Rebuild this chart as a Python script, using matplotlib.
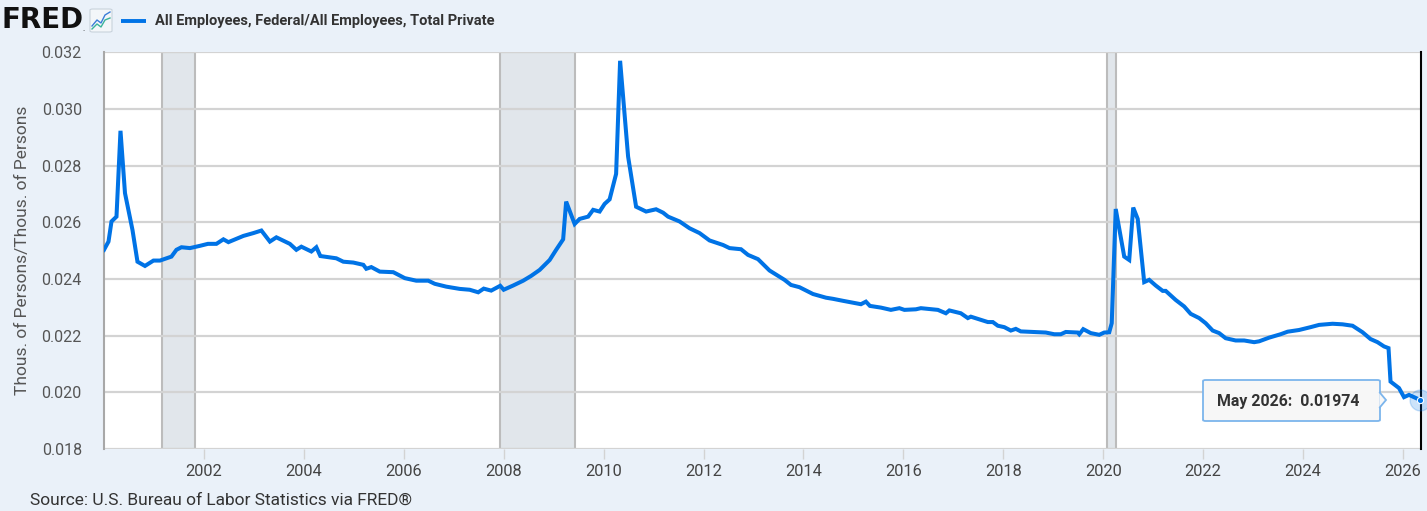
import matplotlib
matplotlib.use('Agg')
import matplotlib.pyplot as plt
from matplotlib.patches import FancyBboxPatch, Polygon

plt.rcParams['font.family'] = ['Roboto', 'DejaVu Sans']

# monthly ratio (decimal year, value)
years = [2000.00, 2000.09, 2000.15, 2000.25, 2000.33, 2000.42, 2000.57, 2000.67, 2000.82, 2000.99,
         2001.12, 2001.35, 2001.45, 2001.55, 2001.72, 2001.92, 2002.08, 2002.25, 2002.39, 2002.49,
         2002.79, 2002.99, 2003.15, 2003.32, 2003.45, 2003.72, 2003.85, 2003.95, 2004.15, 2004.25,
         2004.33, 2004.65, 2004.79, 2004.99, 2005.19, 2005.25, 2005.35, 2005.52, 2005.79, 2006.02,
         2006.25, 2006.49, 2006.62, 2006.85, 2007.12, 2007.32, 2007.49, 2007.60, 2007.75, 2007.93,
         2008.00, 2008.19, 2008.39, 2008.55, 2008.72, 2008.92, 2009.05, 2009.19, 2009.25, 2009.42,
         2009.52, 2009.69, 2009.79, 2009.92, 2010.02, 2010.12, 2010.25, 2010.33, 2010.49, 2010.65,
         2010.85, 2011.05, 2011.19, 2011.29, 2011.52, 2011.72, 2011.92, 2012.12, 2012.39, 2012.52,
         2012.75, 2012.89, 2013.09, 2013.32, 2013.62, 2013.75, 2013.92, 2014.19, 2014.45, 2014.59,
         2014.79, 2015.15, 2015.25, 2015.33, 2015.55, 2015.75, 2015.92, 2016.02, 2016.25, 2016.35,
         2016.69, 2016.85, 2016.92, 2017.15, 2017.29, 2017.35, 2017.55, 2017.69, 2017.79, 2017.89,
         2018.02, 2018.15, 2018.25, 2018.35, 2018.59, 2018.85, 2019.02, 2019.15, 2019.25, 2019.49,
         2019.52, 2019.60, 2019.75, 2019.92, 2020.02, 2020.12, 2020.17, 2020.25, 2020.42, 2020.52,
         2020.60, 2020.69, 2020.82, 2020.92, 2021.05, 2021.19, 2021.25, 2021.45, 2021.62, 2021.75,
         2021.92, 2022.05, 2022.19, 2022.32, 2022.45, 2022.65, 2022.82, 2023.02, 2023.12, 2023.32,
         2023.55, 2023.69, 2023.92, 2024.15, 2024.32, 2024.59, 2024.79, 2024.99, 2025.19, 2025.35,
         2025.49, 2025.62, 2025.71, 2025.75, 2025.92, 2026.02, 2026.12, 2026.33]
ratio = [0.02503, 0.02532, 0.02603, 0.02620, 0.02923, 0.02703, 0.02573, 0.02461, 0.02446, 0.02465,
         0.02465, 0.02479, 0.02503, 0.02512, 0.02509, 0.02517, 0.02524, 0.02524, 0.02540, 0.02530,
         0.02552, 0.02562, 0.02571, 0.02532, 0.02547, 0.02524, 0.02503, 0.02514, 0.02497, 0.02512,
         0.02481, 0.02473, 0.02461, 0.02458, 0.02450, 0.02436, 0.02442, 0.02426, 0.02424, 0.02403,
         0.02394, 0.02394, 0.02383, 0.02373, 0.02365, 0.02362, 0.02353, 0.02366, 0.02359, 0.02376,
         0.02362, 0.02377, 0.02394, 0.02411, 0.02432, 0.02467, 0.02503, 0.02540, 0.02673, 0.02594,
         0.02612, 0.02620, 0.02644, 0.02638, 0.02665, 0.02681, 0.02771, 0.03170, 0.02832, 0.02655,
         0.02638, 0.02646, 0.02634, 0.02620, 0.02603, 0.02579, 0.02562, 0.02536, 0.02520, 0.02509,
         0.02505, 0.02485, 0.02470, 0.02430, 0.02397, 0.02379, 0.02371, 0.02347, 0.02334, 0.02330,
         0.02323, 0.02311, 0.02320, 0.02305, 0.02299, 0.02291, 0.02297, 0.02291, 0.02293, 0.02297,
         0.02291, 0.02279, 0.02289, 0.02279, 0.02262, 0.02267, 0.02256, 0.02248, 0.02248, 0.02235,
         0.02230, 0.02218, 0.02224, 0.02215, 0.02213, 0.02211, 0.02205, 0.02205, 0.02213, 0.02211,
         0.02205, 0.02223, 0.02209, 0.02203, 0.02211, 0.02212, 0.02244, 0.02647, 0.02479, 0.02467,
         0.02652, 0.02612, 0.02389, 0.02397, 0.02377, 0.02358, 0.02358, 0.02326, 0.02303, 0.02277,
         0.02262, 0.02244, 0.02218, 0.02209, 0.02191, 0.02183, 0.02183, 0.02177, 0.02180, 0.02193,
         0.02205, 0.02214, 0.02220, 0.02230, 0.02238, 0.02242, 0.02240, 0.02235, 0.02212, 0.02188,
         0.02177, 0.02162, 0.02156, 0.02038, 0.02015, 0.01983, 0.01991, 0.01974]

recessions = [(2001.17, 2001.83), (2007.92, 2009.42), (2020.08, 2020.25)]
yticks = [0.018, 0.020, 0.022, 0.024, 0.026, 0.028, 0.030, 0.032]
xticks = list(range(2002, 2027, 2))

bg = '#eaf1f9'
blue = '#0073e6'

fig = plt.figure(figsize=(14.27, 5.11), dpi=100, facecolor=bg)
ax = fig.add_axes([104 / 1427, 1 - 449 / 511, 1317 / 1427, (449 - 52.3) / 511])
ax.set_facecolor('white')

for a, b in recessions:
    ax.axvspan(a, b, facecolor='#e1e6eb', edgecolor='#bcbcbc', linewidth=1.5, zorder=1)

for v in yticks:
    ax.axhline(v, color='#d3d3d3', linewidth=1.6, zorder=2)

ax.plot(years, ratio, color=blue, linewidth=2.9, solid_joinstyle='miter', zorder=4)

ax.set_xlim(2000.0, 2026.36)
ax.set_ylim(0.018, 0.032)
ax.set_yticks(yticks)
ax.set_yticklabels([f'{v:.3f}' for v in yticks])
ax.set_xticks(xticks)
ax.tick_params(axis='y', length=0, pad=16, labelsize=11.5, labelcolor='#555555')
ax.tick_params(axis='x', length=7, width=1, color='#d3d3d3', pad=4, labelsize=11.8, labelcolor='#444444')

for s in ['top', 'bottom']:
    ax.spines[s].set_visible(False)
ax.spines['left'].set_color('#a8a8a8')
ax.spines['left'].set_linewidth(1.5)
ax.spines['right'].set_color('black')
ax.spines['right'].set_linewidth(1.5)

ax.set_ylabel('Thous. of Persons/Thous. of Persons', fontsize=12.5, color='#555555', labelpad=8)

# last point marker with halo
ax.plot(years[-1], ratio[-1], 'o', markersize=15, color=blue, alpha=0.2, zorder=5, clip_on=False)
ax.plot(years[-1], ratio[-1], 'o', markersize=4.5, color=blue, markeredgecolor='white',
        markeredgewidth=0.8, zorder=6, clip_on=False)

# tooltip
tx0, tx1 = 1203 / 1427, 1380 / 1427
ty0, ty1 = 1 - 421 / 511, 1 - 380 / 511
box = FancyBboxPatch((tx0, ty0), tx1 - tx0, ty1 - ty0, boxstyle='round,pad=0,rounding_size=0.002',
                     transform=fig.transFigure, facecolor='#f7f7f7', edgecolor='#7cb5ec',
                     linewidth=1.3, zorder=10)
fig.patches.append(box)
tip = Polygon([(tx1 - 0.0005, 1 - 392 / 511), (tx1 + 6 / 1427, 1 - 400 / 511), (tx1 - 0.0005, 1 - 408 / 511)],
              closed=False, transform=fig.transFigure, facecolor='#f7f7f7', edgecolor='#7cb5ec',
              linewidth=1.3, zorder=11)
fig.patches.append(tip)
fig.text(1217 / 1427, 1 - 401 / 511, 'May 2026:  0.01974', fontsize=11.4, fontweight='bold',
         color='#333333', va='center', ha='left', zorder=12)

# header
fig.text(1 / 1427, 1 - 20 / 511, 'FRED', fontsize=20, fontweight='bold', family='DejaVu Sans',
         color='#111111', va='center', ha='left')
fig.text(82 / 1427, 1 - 29 / 511, '.', fontsize=6, color='#111111', va='center', ha='left')
icon = FancyBboxPatch((90 / 1427, 1 - 32 / 511), 22 / 1427, 23 / 511, boxstyle='round,pad=0,rounding_size=0.002',
                      transform=fig.transFigure, facecolor='#f3f6f9', edgecolor='#c9d3dc', linewidth=0.8)
fig.patches.append(icon)
fig.lines.append(plt.Line2D([92 / 1427, 97 / 1427, 101 / 1427, 105 / 1427, 110 / 1427],
                            [1 - 26 / 511, 1 - 20 / 511, 1 - 23 / 511, 1 - 15 / 511, 1 - 12 / 511],
                            transform=fig.transFigure, color='#3b7dd8', linewidth=1))
fig.lines.append(plt.Line2D([92 / 1427, 97 / 1427, 101 / 1427, 105 / 1427, 110 / 1427],
                            [1 - 29 / 511, 1 - 24 / 511, 1 - 27 / 511, 1 - 20 / 511, 1 - 18 / 511],
                            transform=fig.transFigure, color='#3bb39a', linewidth=1))
fig.lines.append(plt.Line2D([121 / 1427, 146 / 1427], [1 - 21 / 511, 1 - 21 / 511],
                            transform=fig.transFigure, color=blue, linewidth=2.8,
                            solid_capstyle='butt'))
fig.text(155 / 1427, 1 - 21 / 511, 'All Employees, Federal/All Employees, Total Private',
         fontsize=10.5, fontweight='bold', color='#333333', va='center', ha='left')

fig.text(30 / 1427, 1 - 500 / 511, 'Source: U.S. Bureau of Labor Statistics via FRED®',
         fontsize=12.5, color='#333333', va='center', ha='left')

fig.savefig('out.png', dpi=100, facecolor=bg)
